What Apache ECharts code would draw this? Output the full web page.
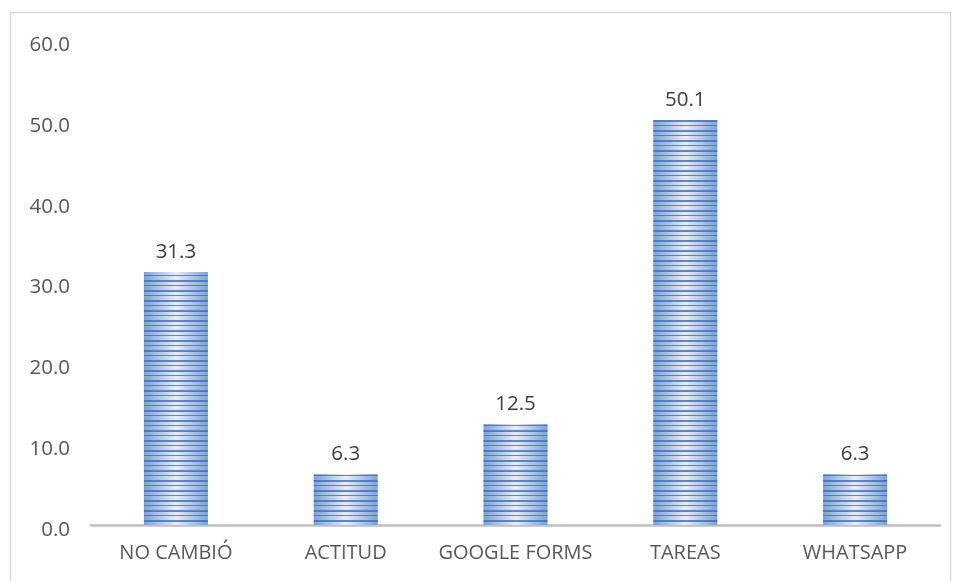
<!DOCTYPE html>
<html><head><meta charset="utf-8">
<script src="https://cdn.jsdelivr.net/npm/echarts@6/dist/echarts.min.js"></script>
<style>html,body{margin:0;padding:0;background:#fff}#c{width:956px;height:581px}</style>
</head><body><div id="c"></div>
<script>
const categories = ['NO CAMBIÓ', 'ACTITUD', 'GOOGLE FORMS', 'TAREAS', 'WHATSAPP'];
const values = [31.3, 6.3, 12.5, 50.1, 6.3];
const yMin = 0, yMax = 60, yStep = 10;

const chart = echarts.init(document.getElementById('c'), null, {renderer: 'canvas'});
const fill = new echarts.graphic.LinearGradient(0, 0, 1, 0, [
  {offset: 0, color: '#7ca2d6'},
  {offset: 0.5, color: '#e6edf8'},
  {offset: 1, color: '#7ca2d6'}
]);
chart.setOption({
  animation: false,
  backgroundColor: '#fff',
  graphic: [{type: 'rect', left: 8, top: 10, shape: {width: 940, height: 580}, style: {fill: 'none', stroke: '#d9d9d9', lineWidth: 1.5}, silent: true}],
  grid: {left: 91, right: 16, top: 40, bottom: 56},
  xAxis: {
    type: 'category', data: categories,
    axisLine: {lineStyle: {color: '#bfbfbf', width: 2.5}},
    axisTick: {show: false},
    axisLabel: {interval: 0, hideOverlap: false, color: '#595959', fontSize: 20, fontFamily: 'Open Sans', margin: 18}
  },
  yAxis: {
    type: 'value', min: yMin, max: yMax, interval: yStep,
    axisLine: {show: false}, axisTick: {show: false}, splitLine: {show: false},
    axisLabel: {
      color: '#595959', fontSize: 20.5, fontFamily: 'Open Sans', margin: 21,
      formatter: v => '{a|' + v.toFixed(1) + '}',
      rich: {a: {color: '#595959', fontSize: 20.5, fontFamily: 'Open Sans', padding: [10, 0, 0, 0]}}
    }
  },
  series: [{
    type: 'bar', data: values, barWidth: 64,
    itemStyle: {
      color: fill,
      decal: {symbol: 'rect', dashArrayX: [1, 0], dashArrayY: [2, 3, 1, 4], rotation: 0, color: 'rgba(62,110,190,0.8)', symbolSize: 1}
    },
    label: {show: true, position: 'top', distance: 9, color: '#404040', fontSize: 20.5, fontFamily: 'Open Sans', formatter: p => p.value.toFixed(1)}
  }]
});
</script></body></html>
